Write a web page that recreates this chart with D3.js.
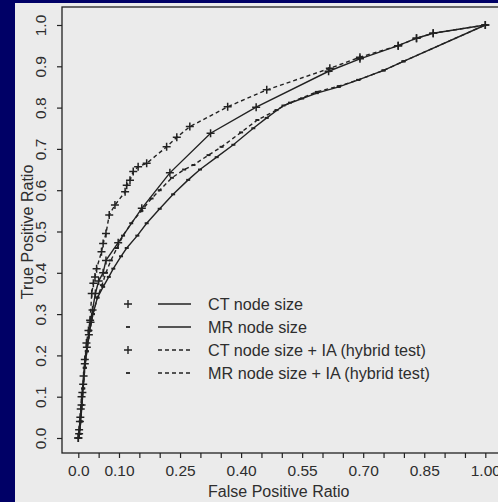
<!DOCTYPE html>
<html><head><meta charset="utf-8">
<script src="https://cdn.jsdelivr.net/npm/d3@7"></script>
<style>html,body{margin:0;padding:0;background:#000066;overflow:hidden}</style>
</head><body>
<svg id="c" width="498" height="502"></svg>
<script>
// ---- data ----
const xTicks = [0,0.05,0.10,0.15,0.20,0.25,0.30,0.35,0.40,0.45,0.50,0.55,0.60,0.65,0.70,0.75,0.80,0.85,0.90,0.95,1.00];
const xTickLabels = ["0.0","0.10","0.25","0.40","0.55","0.70","0.85","1.00"];
const xLabelValues = [0,0.10,0.25,0.40,0.55,0.70,0.85,1.00];
const yTicks = [0,0.1,0.2,0.3,0.4,0.5,0.6,0.7,0.8,0.9,1.0];
const yTickLabels = ["0.0","0.1","0.2","0.3","0.4","0.5","0.6","0.7","0.8","0.9","1.0"];

const legendLabels = ["CT node size","MR node size","CT node size + IA (hybrid test)","MR node size + IA (hybrid test)"];

// CT node size (solid, +)
const ctX = [0,0.002,0.005,0.008,0.010,0.013,0.016,0.021,0.026,0.030,0.035,0.042,0.050,0.061,0.068,0.098,0.156,0.225,0.325,0.437,0.615,0.692,0.786,0.831,0.872,1];
const ctY = [0,0.02,0.05,0.08,0.11,0.15,0.19,0.22,0.25,0.28,0.31,0.35,0.38,0.40,0.43,0.473,0.556,0.642,0.738,0.801,0.888,0.918,0.950,0.968,0.980,1];
// MR node size (solid, -)
const mrX = [0,0.003,0.006,0.009,0.012,0.016,0.021,0.028,0.036,0.047,0.061,0.075,0.086,0.105,0.119,0.145,0.168,0.20,0.233,0.27,0.299,0.34,0.381,0.43,0.463,0.504,0.55,0.586,0.64,0.688,0.75,0.799,1];
const mrY = [0,0.01,0.04,0.08,0.12,0.17,0.21,0.26,0.30,0.34,0.366,0.39,0.41,0.44,0.46,0.49,0.52,0.555,0.59,0.625,0.65,0.68,0.71,0.75,0.775,0.805,0.822,0.835,0.85,0.867,0.89,0.912,1];
// CT node size + IA (dashed, +)
const ctiaX = [0,0.002,0.004,0.006,0.008,0.012,0.016,0.020,0.025,0.029,0.033,0.037,0.041,0.045,0.057,0.061,0.068,0.076,0.090,0.115,0.119,0.127,0.135,0.147,0.168,0.217,0.242,0.274,0.367,0.463,0.618,0.692,0.786,0.831,0.872,1];
const ctiaY = [0,0.01,0.04,0.07,0.10,0.13,0.18,0.23,0.26,0.285,0.35,0.375,0.39,0.41,0.451,0.471,0.495,0.540,0.564,0.596,0.612,0.624,0.645,0.657,0.665,0.705,0.728,0.754,0.802,0.843,0.895,0.922,0.950,0.968,0.980,1];
// MR node size + IA (dashed, -)
const mriaX = [0,0.003,0.006,0.009,0.012,0.016,0.021,0.028,0.036,0.047,0.058,0.068,0.080,0.095,0.11,0.13,0.155,0.18,0.2,0.23,0.26,0.283,0.32,0.352,0.40,0.44,0.487,0.52,0.586,0.64,0.688,0.75,0.799,1];
const mriaY = [0,0.01,0.04,0.08,0.12,0.17,0.21,0.26,0.30,0.34,0.37,0.40,0.43,0.46,0.49,0.52,0.55,0.58,0.60,0.63,0.65,0.661,0.685,0.705,0.74,0.77,0.794,0.812,0.838,0.852,0.867,0.89,0.912,1];

// ---- drawing ----
const svg = d3.select("#c");
const FONT = "'Liberation Sans', Arial, Helvetica, sans-serif";
const INK = "#222";
const TXT = "#2e2e2e";

svg.append("rect").attr("x",15).attr("y",3).attr("width",483).attr("height",499).attr("fill","#ebebeb");

const x = d3.scaleLinear().domain([0,1]).range([78.3,485.3]);
const y = d3.scaleLinear().domain([0,1]).range([438,25]);

const plotL = 62, plotT = 7, plotB = 453, plotR = 510;
svg.append("rect").attr("x",plotL).attr("y",plotT).attr("width",plotR-plotL).attr("height",plotB-plotT)
  .attr("fill","none").attr("stroke",INK).attr("stroke-width",1.3);

// x axis
const xAxis = d3.axisBottom(x).tickValues(xTicks).tickSize(5).tickFormat(d=>{
  const i = xLabelValues.findIndex(v=>Math.abs(v-d)<1e-9);
  return i>=0 ? xTickLabels[i] : "";
});
const gx = svg.append("g").attr("transform",`translate(0,${plotB})`).call(xAxis);
gx.select(".domain").remove();
gx.selectAll("line").attr("stroke",INK).attr("stroke-width",1.2);
gx.selectAll("text").attr("font-family",FONT).attr("font-size",15.5).attr("fill",TXT).attr("dy",0).attr("y",22.5);

// y axis
const yAxis = d3.axisLeft(y).tickValues(yTicks).tickSize(5).tickFormat((d,i)=>yTickLabels[i]);
const gy = svg.append("g").attr("transform",`translate(${plotL},0)`).call(yAxis);
gy.select(".domain").remove();
gy.selectAll("line").attr("stroke",INK).attr("stroke-width",1.2);
gy.selectAll("text").attr("font-family",FONT).attr("font-size",15.5).attr("fill",TXT)
  .attr("x",0).attr("dy",0).attr("text-anchor","middle")
  .attr("transform","translate(-16,0) rotate(-90)");

// axis titles
svg.append("text").attr("x",x(0.5)-3).attr("y",497).attr("text-anchor","middle")
  .attr("font-family",FONT).attr("font-size",16).attr("fill",TXT).text("False Positive Ratio");
svg.append("text").attr("transform",`translate(32.5,${232}) rotate(-90)`).attr("text-anchor","middle")
  .attr("font-family",FONT).attr("font-size",16).attr("fill",TXT).text("True Positive Ratio");

// series
const series = [
  {xs:ctX, ys:ctY, dash:null, mark:"plus"},
  {xs:mrX, ys:mrY, dash:null, mark:"minus"},
  {xs:ctiaX, ys:ctiaY, dash:"4,3", mark:"plus"},
  {xs:mriaX, ys:mriaY, dash:"4,3", mark:"minus"}
];
const line = d3.line().x(d=>x(d[0])).y(d=>y(d[1]));
series.forEach(s=>{
  const pts = s.xs.map((v,i)=>[v,s.ys[i]]);
  const p = svg.append("path").datum(pts).attr("d",line).attr("fill","none")
    .attr("stroke",INK).attr("stroke-width",1.4);
  if (s.dash) p.attr("stroke-dasharray",s.dash);
  const g = svg.append("g");
  pts.forEach(d=>{
    const cx = x(d[0]), cy = y(d[1]);
    if (s.mark==="plus") {
      g.append("path").attr("d",`M${cx-4},${cy}H${cx+4}M${cx},${cy-4}V${cy+4}`)
        .attr("stroke",INK).attr("stroke-width",1.5);
    } else {
      g.append("path").attr("d",`M${cx-2},${cy}H${cx+2}`)
        .attr("stroke",INK).attr("stroke-width",2);
    }
  });
});

// legend
const legY = [304,327,350,373];
const legMarks = ["plus","minus","plus","minus"];
const legDash = [null,null,"4,3","4,3"];
legendLabels.forEach((lab,i)=>{
  const cy = legY[i];
  if (legMarks[i]==="plus") {
    svg.append("path").attr("d",`M${128-4},${cy}H${128+4}M128,${cy-4}V${cy+4}`).attr("stroke",INK).attr("stroke-width",1.4);
  } else {
    svg.append("path").attr("d",`M${128-2},${cy}H${128+2}`).attr("stroke",INK).attr("stroke-width",1.8);
  }
  const l = svg.append("line").attr("x1",158).attr("x2",191).attr("y1",cy).attr("y2",cy)
    .attr("stroke",INK).attr("stroke-width",1.3);
  if (legDash[i]) l.attr("stroke-dasharray",legDash[i]);
  svg.append("text").attr("x",208).attr("y",cy+5.5).attr("font-family",FONT).attr("font-size",16.2)
    .attr("fill",TXT).text(lab);
});
</script>
</body></html>
